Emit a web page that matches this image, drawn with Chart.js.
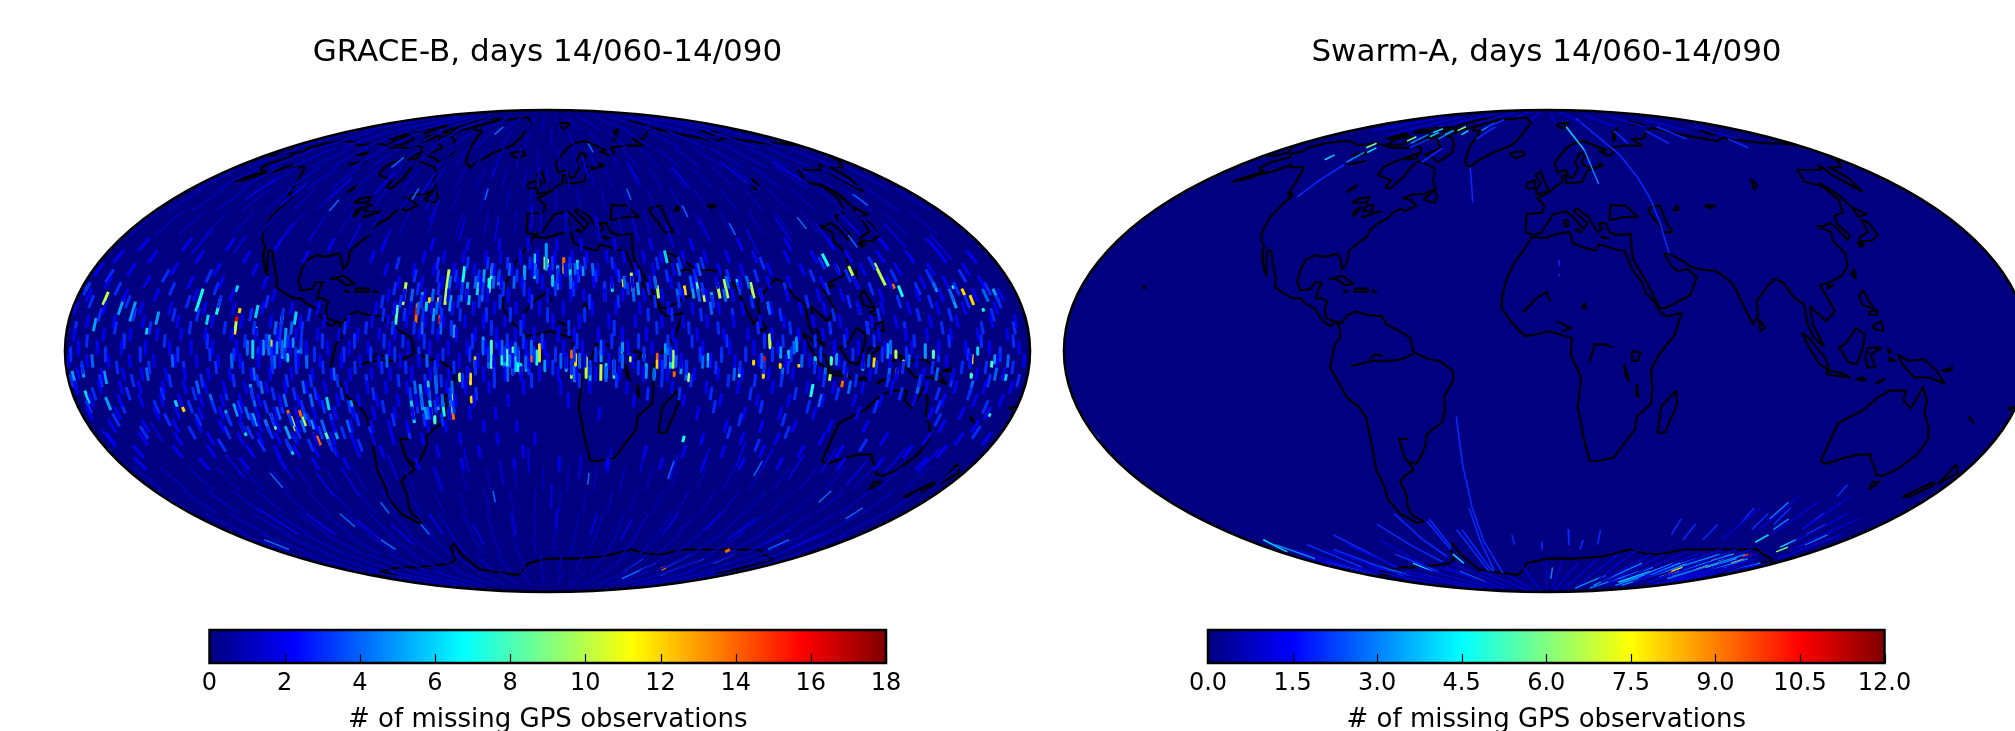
<!DOCTYPE html>
<html><head><meta charset="utf-8">
<style>
html,body{margin:0;padding:0;background:#fff;width:2015px;height:731px;overflow:hidden;position:relative}
canvas{position:absolute;display:block}
</style>
<script src="https://cdn.jsdelivr.net/npm/chart.js@4/dist/chart.umd.js"></script>
</head><body>
<canvas id="mapA" style="left:61px;top:0" width="973" height="596"></canvas>
<canvas id="mapB" style="left:1060px;top:0" width="973" height="596"></canvas>
<canvas id="barA" style="left:110px;top:620px" width="875" height="111"></canvas>
<canvas id="barB" style="left:1108px;top:620px" width="876" height="111"></canvas>
<script>
/* ---------- titles and colour-bar ---------- */
const titleA='GRACE-B, days 14/060-14/090';
const titleB='Swarm-A, days 14/060-14/090';
const barLabel='# of missing GPS observations';
const maxA=18, stepA=2, maxB=12, stepB=1.5;

/* ---------- coastlines, flat lon,lat lists ---------- */
const coastAmerica=[-165,54.5,-160,55.5,-157,57,-153,58.5,-151,60,-150,61,-148,60,-145,60,-140,60,-137,58.5,-134,56.5,-131,54.5,-128,51,-124,49,-124,46,-124,42,-122,37,-120,34.5,-117,32.5,-116,30,-114,27.5,-112,25,-110,23,-111,25,-113,28,-114.5,31,-113,31,-110,27.5,-108,25,-105.5,21.5,-105,19.5,-102,18,-97,16,-94,16,-92,14.5,-88,13,-86,11,-84,9,-81,7.5,-79,9,-77.5,7,-77,4,-79,2,-80,-2,-81,-5,-79,-8,-76,-14,-72,-17,-70,-20,-71,-30,-73,-37,-73,-42,-75,-47,-74,-52,-69,-55.5,-65,-55,-68.5,-52.5,-68,-50,-65,-45,-65,-41,-62,-39,-57,-37,-58,-34.5,-55,-35,-53,-33.5,-49,-29,-48,-26,-45,-24,-41,-22,-39,-18,-39,-14,-35,-9,-35,-6,-40,-3,-44,-2.5,-48,-1,-50,0,-50,1,-51,4,-55,6,-60,8,-62,10.5,-68,11,-72,12,-75,11,-77,8.5,-80,9,-83,10,-84,13,-83.5,15,-86,16,-88,16,-88,18,-87.5,21,-90,21,-91,19,-95,18.5,-97,21,-97.5,25,-97,28,-94,29.5,-90,29,-85,30,-83,28,-81,25,-80,27,-81,31,-78,34,-76,35.5,-76,38,-74,40,-71,41.5,-70,43.5,-67,45,-65,44,-61,46,-65,48,-69,48.5,-65,50,-60,50,-56,52,-60,55,-62,58,-65,60,-70,61,-78,62.5,-78,59,-77,56,-79,52,-82,52.5,-82,55,-87,56,-92,57,-94,60,-92,62,-87,64,-83,66,-87,68,-94,69,-96,68,-108,68,-115,69,-125,70,-135,69,-141,70,-150,71,-156,71,-162,70,-166,68,-162,66.5,-166,65.5,-161,64,-165,62,-165,60,-162,59,-158,58.5,-165,54.5];
const coastAfrica=[-6,35.5,-1,35,5,36.5,10,37,11,33.5,15,32,20,31,22,33,30,31,32,31,33,28,34,25,37,21,38,18,41,15,43,12,45,10.5,51,11.5,48,5,42,-1,39,-6,40,-11,40,-16,35,-20,35,-24,32.5,-27,28,-33,22,-34,18,-34,15,-27,12,-17,13,-8,9,-1,9.5,4,5,5,1,6,-4,5,-8,4.5,-13,8.5,-17,13,-17,16,-16,21,-13,27,-9.5,31,-6,35.5];
const coastEurasia=[-5.5,36,-9,37,-9,43,-2,43.5,-1,46,-4.5,48.5,2,51,5,53,8,54,8.5,57,10.5,57,10,54,14,54,19,54.5,21,57,24,59,30,60,23,60,21,62,25,65,22,66,17,62,18,59.5,14,56,12,56,11,59,6,58,5,62,14,68,20,70,28,71,40,67,35,66.5,40,64.5,44,66,44,68,55,69,68,69,67,72,75,72,80,73,87,75,104,77.5,113,74,130,71,140,72.5,160,70,170,70,180,69];
const coastAsiaEast=[180,65,177,62.5,170,60,163,60,162,56,157,51,156,57,160,61,155,59,142,59,135,54.5,141,53,140,48,135,43.5,130,42.5,127.5,39.5,129,36,126.5,34.5,126,37.5,125,40,121,39,118,39,122,37,120,34,122,30,120,26,116,23,110,21,106,20,108,15,109,12,105,9,103,11,100,13.5,100,8,103.5,1.5,100,4,98,8,98,14,94.5,16.5,92,21,89,22,86,20,80,15,80,11,77.5,8,73,19,72,21,67,24.5,61,25,57,26,56,27,50,30,48,30,50,26,52,24.5,56,25,59,22.5,55,17,45,13,43,13,39,21,35,28,35,31,36,36.5,30,36,27,37,26,40,23,40,24,38,22,37,20,40,19,42,14,45,12.5,44,16,41.5,18,40,16,38,12,42,9,44,3,43,0,39.5,-2,37,-5.5,36];
const coastAustralia=[114,-22,122,-18,126,-14,130,-12,136,-12,136,-15,140,-17.5,142,-11,145,-15,146,-19,150,-23,153,-27,153,-32,150,-37,146,-39,143,-38.5,138,-35,136,-34,134,-32,129,-32,124,-33,118,-35,115,-34,114,-28,114,-22];
const coastAntarctica=[-180,-78,-155,-78,-153,-76,-140,-75,-125,-74,-110,-74,-90,-73,-75,-72,-68,-70,-62,-65,-58,-63.5,-60,-68,-60,-75,-30,-78,-26,-77,-15,-72,0,-70,20,-70,40,-69,55,-66,70,-68,80,-68,90,-66,110,-66,130,-66,139,-66,150,-68,165,-70,171.5,-71,165,-77,170,-77,180,-78];
const coastGreenland=[-73,78,-68,76,-60,76,-55,70,-52,66,-49,62,-44.8,60,-41,63,-35,66,-25,69,-22,72,-20,76,-18,80,-30,83.5,-45,82.5,-60,82,-68,80,-73,78];
const coastArctic=[[-62,66,-65,62,-72,64,-78,65,-73,68,-80,70,-88,73,-80,73.5,-72,71.5,-66,69,-62,66],[-105,69,-115,69.5,-118,72,-110,73,-105,72,-105,69],[-120,72,-125,72,-123,74.5,-117,74,-120,72],[-90,76.5,-78,76.5,-72,79,-62,82,-75,83,-90,82,-92,79,-90,76.5],[-92,75,-80,74.5,-80,75.5,-92,76.5,-92,75],[-117,75,-106,75,-106,76.5,-117,76.5,-117,75],[-86,63,-81,63.5,-83,65.5,-86,65,-86,63],[-100,73,-95,72,-94,74,-100,73],[-100,76,-94,76,-96,78,-100,76],[-110,77,-104,77.5,-108,79,-110,77],[-96,70,-90,72,-92,74,-96,70],[15,77,20,78,25,80,15,80,11,79,15,77],[52,71,58,74,68,77,60,75.5,52,72,52,71],[95,79,105,79,100,81,95,79],[-180,69,-175,67.5,-170,66,-173,64.5,-180,65],[140,74,150,75,142,76,140,74]];
const coastIslands=[[-59,48,-53,47,-53,49,-56,51.5,-59,48],[-128,50.5,-123.5,48.5,-125,50,-128,50.5],[-24,65.5,-19,63.5,-14,65,-16,66.5,-22,66,-24,65.5],[-85,22,-80,23,-75,20.5,-78,20,-82,22,-85,22],[-74,19,-69,19,-69,18,-74,18,-74,19],[-78,18.5,-76.5,18,-78,18,-78,18.5],[-67,18.5,-65.5,18,-67,18,-67,18.5],[-156,20,-155,19.5,-155.5,19,-156,20],[-5,50,1,51,0,53,-2,56,-3,58.5,-6,57,-3,54,-5,52,-5,50],[-10,52,-6,52,-6,55,-10,54,-10,52],[8,39,9.5,39,9.5,41,8,41,8,39],[13,38,15,37,12.5,37.5,13,38],[23,35.5,26,35,24,35,23,35.5],[142,46,143,50,142,54,143,49.5,142,46],[131,34,136,34,141,36,142,40,140,41,138,37,133,35.5,131,34],[140,42,145,43,142,45.5,140,42],[130,32,132,33,130,33.5,130,32],[121,22,122,25,120,23.5,121,22],[109,19,111,20,109,20,109,19],[120,14,124,13,122,18.5,120,17,120,14],[122,7,126,6,126,9,123,8,122,7],[122,11,125,11,125,12.5,122,12,122,11],[80,6,82,7,80,9.5,80,6],[95.5,5.5,98,4,104,-2,106,-6,102,-4,98,1,95.5,5.5],[105,-7,114,-8,110,-6.5,105,-6,105,-7],[116,-8.5,120,-9,119,-8,116,-8.5],[124,-10,127,-8.5,125,-9,124,-10],[109,1,113,-3.5,116,-4,118,1,119,5,116,7,112,2.5,109,1],[120,1,125,1,121,-1,123,-5,120,-5,119,-2,120,1],[128,-3,130,-3,128,-2,128,-3],[127.5,1,128.5,-0.5,127.5,-0.5,127.5,1],[131,-1,135,-3,141,-2.5,146,-6,150,-10,144,-8,138,-8,133,-4,131,-1],[148,-6,152,-5,151,-6,148,-6],[145,-41,148,-41,147,-43.5,145,-41],[173,-35,178,-38,175,-41.5,174,-38,173,-35],[172,-41,174,-42,170,-46,167,-46,172,-41],[49,-12,50,-16,47,-25,44,-25,44,-17,49,-12],[165,-21,167,-22,164,-20,165,-21],[178,-18,179,-17,177.5,-17.5,178,-18]];
const coastInland=[[-50,-1,-54,-2.5,-58,-3,-60,-3,-65,-3,-70,-4,-73,-4.5],[-61,-1.5,-64,-1,-66,-2.5],[-55.5,-27,-59,-27,-59,-33,-58,-34.5],[-9,11.5,-4,16,0,18,1.5,15],[4,9,9,7,6,6],[16,-3.5,18,2,22,2,25,1],[32,0,35,-0.5,34,-3,32,-3,32,0],[29,-4,31,-9,29.5,-7,29,-4],[34,-10,35,-14,34,-13,34,-10],[13.5,13,15,13,14.5,14.5,13.5,13],[28,41,30,46,37,46,41,42,35,42,28,41],[47,45,53,46,53,40,54,37,50,37,49,40,47,43,47,45],[58,44,61,46,61,44.5,58,44],[74,46,79,46,76,45,74,46],[104,51.5,109,55.5,108,53,104,51.5],[31,60,33,61,31,61.5,31,60],[-92,47,-85,47,-86,49,-90,48.5,-92,47],[-87,42,-86,45.5,-88,44,-87,42],[-84,44,-80,44,-81,46,-84,46,-84,44],[-83,42,-79,43,-82,42,-83,42],[-79,43.5,-76,44,-77,43.5,-79,43.5],[-99,50.5,-97,53,-98,53,-99,50.5],[-125,65,-118,66,-118,65,-125,65],[-117,61,-110,62.5,-112,62,-117,61]];

/* ---------- GRACE-B dense cells, by latitude strip: [lat1,lat2,[lons]] ---------- */
const graceRowsV1=[
[84,76,[-170,-140,-120,-100,-85,-60,-40,-20,-5,12,30,50,75,100,125,150,170]],
[76,68,[-175,-158,-143,-128,-113,-96,-82,-67,-50,-33,-16,3,19,38,55,72,92,110,128,146,165]],
[68,60,[-172,-160,-148,-136,-125,-112,-102,-88,-78,-64,-54,-42,-30,-18,-6,7,17,28,41,52,64,76,88,101,113,126,139,152,167]],
[60,52,[-177,-166,-155,-144,-131,-121,-109,-97,-84,-73,-59,-47,-36,-23,-12,0,11,24,33,47,58,70,83,95,107,118,131,144,158,172]],
[52,44,[-174,-163,-152,-140,-129,-117,-106,-93,-81,-68,-56,-44,-31,-19,-8,4,15,27,38,50,62,74,87,99,111,123,136,149,161,176]],
[44,36,[-178,-167,-157,-146,-134,-123,-111,-100,-89,-76,-63,-51,-39,-27,-14,-3,9,21,32,44,56,67,79,92,104,116,128,141,153,166]],
[-36,-44,[-176,-165,-153,-141,-130,-118,-107,-95,-83,-72,-61,-49,-37,-26,-14,-2,9,21,33,45,56,68,80,92,103,115,127,139,151,163,175]],
[-44,-52,[-179,-167,-156,-144,-133,-121,-110,-99,-87,-76,-64,-52,-41,-29,-17,-6,6,18,30,41,53,65,77,88,100,112,124,136,148,159,171]],
[-52,-60,[-173,-161,-149,-137,-126,-113,-102,-90,-78,-66,-55,-43,-31,-19,-7,4,16,28,39,51,63,75,87,99,110,122,134,146,158,170]],
[-60,-68,[-176,-164,-152,-140,-128,-116,-104,-92,-80,-68,-56,-44,-32,-20,-8,4,16,28,40,52,64,76,88,100,112,124,136,148,160,172]],
[-68,-76,[-170,-155,-140,-125,-110,-95,-80,-65,-50,-35,-20,-5,10,25,40,55,70,85,100,115,130,145,160,175]],
[-76,-84,[-165,-145,-125,-105,-85,-65,-45,-25,-5,15,35,55,75,95,115,135,155,175]]];
const graceRowsV2=[
[31,27,[-174,-160,-141,-122,-98,-71,-50,-42,-34,-25,-19,-11,-4,3,10,16,24,31,39,46,55,64,73,84,97,108,122,135,147,160,172]],
[27,23,[-178,-165,-148,-131,-116,-64,-53,-45,-37,-29,-21,-14,-6,1,7,13,20,27,35,42,50,59,68,77,88,101,115,125,139,152,166]],
[23,19,[-171,-156,-139,-127,-110,-58,-49,-41,-35,-26,-18,-10,-2,5,11,18,25,33,40,48,57,66,75,86,94,107,120,133,146,155,169]],
[19,15,[-176,-162,-150,-135,-121,-105,-61,-55,-47,-38,-31,-23,-15,-7,0,9,14,22,29,37,44,52,61,71,82,92,104,113,128,142,151,164,174]],
[15,11,[-179,-168,-154,-143,-130,-119,-108,-97,-87,-65,-58,-52,-44,-36,-28,-20,-12,-3,6,17,26,35,46,55,65,74,85,96,105,118,127,137,148,158,170]],
[11,7,[-173,-163,-152,-139,-126,-115,-104,-93,-84,-75,-66,-60,-53,-46,-39,-31,-24,-16,-9,2,12,23,33,43,51,60,70,80,89,100,110,122,131,144,154,167,176]],
[7,3,[-177,-166,-156,-146,-137,-128,-118,-109,-101,-94,-86,-78,-71,-63,-57,-48,-41,-34,-27,-19,-12,-5,4,10,19,28,37,47,56,66,75,84,94,103,112,124,134,142,151,161,172]],
[3,-1,[-175,-168,-159,-150,-141,-133,-125,-116,-107,-102,-96,-90,-82,-74,-67,-59,-52,-44,-37,-30,-23,-18,-14,-8,-1,6,13,21,30,39,48,58,68,77,86,96,107,116,126,136,146,156,165,176]],
[-1,-5,[-179,-172,-164,-156,-147,-139,-131,-123,-115,-108,-100,-93,-85,-77,-70,-63,-55,-48,-41,-33,-26,-20,-13,-7,0,7,14,23,32,42,50,61,70,79,89,98,109,118,128,138,149,158,168,178]],
[-5,-9,[-176,-167,-159,-152,-143,-136,-127,-119,-111,-104,-96,-88,-81,-74,-66,-59,-51,-44,-37,-30,-24,-16,-10,-3,4,11,18,27,36,45,55,64,73,83,92,102,112,121,131,141,152,161,171]],
[-9,-13,[-178,-169,-161,-154,-145,-137,-129,-122,-114,-106,-99,-91,-84,-76,-68,-61,-53,-46,-38,-31,-22,-9,5,16,30,47,60,72,85,98,108,119,130,143,154,165,175]],
[-13,-17,[-174,-163,-155,-147,-140,-132,-124,-117,-110,-102,-95,-87,-80,-72,-65,-57,-50,-42,-35,-28,-15,8,33,52,66,80,92,105,117,127,140,151,163,173]],
[-17,-21,[-177,-166,-151,-143,-134,-126,-119,-112,-105,-97,-90,-82,-75,-67,-59,-52,-45,-38,-30,-20,20,58,76,90,103,120,148,160,170]],
[-21,-25,[-171,-158,-146,-137,-128,-120,-113,-106,-98,-91,-84,-77,-69,-62,-55,-47,-40,-25,-12,70,84,97,111,125,155,168]],
[-25,-29,[-175,-162,-148,-135,-123,-115,-108,-101,-93,-86,-78,-70,-62,-50,-35,-20,-5,62,78,92,110,135,152,165,176]],
[-29,-33,[-168,-152,-138,-122,-111,-103,-95,-87,-78,-68,-45,-28,-10,40,56,72,88,104,120,148,162]],
[-33,-37,[-172,-145,-128,-112,-98,-85,-55,-36,-14,5,25,48,66,82,98,124,140,158]],
[35,31,[-168,-150,-132,-112,-90,-68,-48,-33,-20,-8,4,14,28,43,60,80,100,118,140,160]]];
const graceRowsV3=[
[29,25,[-60,-44,-32,-24,-16,-7,2,9,15,26,44,53,62,86,110,130]],
[25,21,[-172,-150,-133,-52,-43,-36,-27,-19,-12,-4,4,12,19,28,36,47,58,71,82,104,118,136,150,163]],
[21,17,[-178,-166,-145,-128,-59,-50,-42,-33,-25,-17,-9,3,10,22,31,39,51,60,74,92,108,125,143,158,170]],
[17,13,[-174,-160,-137,-125,-107,-63,-56,-48,-41,-34,-26,-18,-6,16,27,41,50,63,78,99,115,134,146,160,172]],
[13,9,[-169,-156,-141,-132,-112,-100,-90,-62,-54,-47,-40,-33,-23,-14,0,14,38,47,58,70,88,108,125,140,152,168]],
[9,5,[-177,-162,-149,-134,-121,-110,-100,-92,-76,-68,-58,-50,-43,-36,-21,-10,8,25,41,53,64,79,91,106,120,134,148,163,175]],
[5,1,[-172,-158,-143,-127,-113,-105,-100,-97,-92,-84,-72,-61,-54,-46,-28,-19,-15,-9,-2,11,24,34,45,54,67,81,88,100,111,122,137,150,162,174]],
[1,-3,[-178,-165,-152,-138,-126,-117,-108,-103,-98,-94,-87,-76,-66,-57,-48,-39,-29,-22,-16,-11,-5,3,10,18,27,36,46,57,65,74,84,91,102,114,125,134,146,157,169]],
[-3,-7,[-174,-161,-149,-136,-124,-114,-103,-94,-84,-72,-62,-53,-42,-35,-27,-20,-13,-7,2,9,16,25,34,43,52,63,72,81,90,100,111,123,133,144,155,164,174]],
[-7,-11,[-179,-168,-156,-142,-130,-118,-109,-98,-89,-79,-68,-56,-46,-40,-32,-20,-6,12,26,43,54,68,78,88,104,116,128,140,152,166,177]],
[-11,-15,[-172,-159,-146,-134,-122,-112,-104,-96,-88,-78,-66,-52,-45,-37,-27,38,50,62,77,94,110,134,148,160]],
[-15,-19,[-176,-163,-150,-137,-128,-118,-108,-102,-94,-86,-76,-63,-50,-43,-36,64,82,100,126,150,168]],
[-19,-23,[-168,-148,-136,-124,-115,-107,-100,-93,-84,-74,-60,-48,-41,75,92,152]],
[-23,-27,[-160,-141,-127,-118,-110,-99,-90,-81,-70,-55,72,95,170]],
[-27,-31,[-132,-116,-105,-96,-88,-76,85,128]]];
const graceRowsV4=[
[27,23,[-22,-15,-5,7,11,18,52,60]],
[23,19,[-38,-28,-21,-13,4,9,30,42,56,70,78,120,150]],
[19,15,[-52,-44,-38,-33,-25,22,33,50,58,68,82,155,168]],
[15,11,[-58,-49,-42,-36,-28,46,62,84,118]],
[9,5,[-110,-102,-96,-58,-47,-40,120]],
[3,-1,[-112,-104,-99,-92,-24,-17,-12,-6,20,45,92,128]],
[-1,-5,[-170,-140,-118,-102,-90,-60,-45,-22,-14,-8,5,12,28,44,48,58,80,95,120,135,158,172]],
[-5,-9,[-150,-110,-80,-42,-30,-15,10,22,40,52,70,88,104,128,146,168]],
[-9,-13,[-132,-108,-92,-50,-42,-36,114,140,160]],
[-13,-17,[-128,-112,-100,-90,-48,-40,-37,104]],
[-17,-21,[-116,-104,-94,-82,-46,-38]],
[-21,-25,[-110,-96,-88,-78]]];

/* ---------- GRACE-B individual cells and streaks: [lon,lat1,lat2] ---------- */
const graceFaint2=[[-176,-24,-30],[-155,-22,-28],[-133,-32,-40],[-112,-32,-40],[-100,-38,-46],[-88,-36,-46],[-66,-32,-40],[-48,-36,-44],[-34,-30,-38],[-20,-34,-42],[-8,-30,-38],[2,-42,-50],[14,-32,-40],[26,-30,-38],[40,-30,-38],[54,-32,-40],[66,-30,-38],[80,-28,-36],[92,-30,-38],[106,-32,-40],[118,-30,-38],[134,-34,-42],[146,-30,-38],[160,-30,-38],[-143,-50,-60],[-122,-52,-60],[-100,-54,-62],[-84,-56,-64],[-60,-52,-60],[-40,-56,-64],[-18,-52,-60],[5,-50,-58],[25,-52,-60],[44,-54,-62],[66,-52,-60],[88,-50,-58],[108,-54,-62],[135,-58,-66],[158,-58,-66],[-145,30,38],[-128,30,36],[-112,32,40],[-100,34,42],[-82,32,40],[-68,30,38],[-52,40,48],[-37,34,42],[-22,34,42],[-7,38,46],[8,36,44],[22,34,42],[38,34,42],[52,32,40],[68,34,42],[86,30,38],[102,34,42],[118,32,40],[133,36,44],[148,32,40],[163,28,36],[-145,48,56],[-125,46,54],[-105,48,56],[-85,50,58],[-62,50,58],[-30,56,64],[-5,52,60],[22,56,64],[48,54,62],[72,52,60],[104,54,62],[135,54,62]];
const graceFaint4=[[-120,-38,-43],[-105,-52,-57],[-68,-56,-60],[-80,-48,-52],[-25,-44,-48],[18,-38,-42],[53,-34,-40],[90,-34,-39],[130,-44,-48],[155,-50,-54],[-100,44,48],[-65,48,52],[-30,48,52],[40,48,52],[63,42,46],[80,36,40],[112,38,42],[128,32,36],[150,46,50],[-90,60,64],[-45,74,78],[30,66,70],[70,-70,-76],[85,-72,-80],[100,-68,-74],[115,-70,-78],[130,-68,-72],[145,-62,-66],[-170,-62,-66],[-100,-62,-66]];
const graceV5=[[-180,-8,-10],[-178,-6,-12],[-174,-4,-8],[-168,-14,-18],[-166,-6,-10],[-162,16,11],[-157,15,9],[-170,10,6],[-147,12,8],[-104,5,0],[-101,6,-1],[-98,7,0],[-95,4,1],[-112,-10,-14],[-120,-16,-20],[-75,-15,-20],[-42,-5,-12],[-48,-10,-18],[-35,8,4],[-0.5,33,25],[4,26,21],[14,26,23],[150,21,18],[172,19,15],[-52,-18,-20],[20,0,-3],[-24,4,0],[28,4,0],[44,2,-1],[60,-3,-5],[93,4,0],[108,-1,-4],[127,2,-2],[141,2,-2],[167,-1,-4],[-106,3,-1],[-99,2,-2],[-93,0,-3],[-124,-18,-22],[-114,-19,-23],[-103,-23,-27],[-92,-21,-24],[-84,-24,-27],[-48,18,13],[-43,13,9],[-37,17,12],[-31,21,16],[-25,25,20],[-19,24,20],[-9,26,22],[-16,-1,-5],[-8,-2,-6],[-1,-3,-6],[7,-2,-6],[16,-5,-9],[37,-4,-8],[50,-3,-7],[-42,-14,-18],[-47,-17,-21],[35,21,17],[56,20,16],[63,18,14],[87,1,-2],[118,-3,-6],[155,17,13]];
const graceV6=[[-178,20,18.5],[-150,7,5],[-120,20,18],[-128,11,8],[-110,14,10],[-95,12,8],[-110,3,-2],[-45,-9,-20],[-52,-15,-22],[-5,30,22],[-27,23,17],[9,27,22],[12,28,21],[48,31,27],[74,22,18],[60,-1,-3],[65,-1,-3],[160.5,1,-1],[172,-7,-9],[-87,-30,-32],[-142,-15,-17],[-175,-12,-16],[-120,-22,-26],[-84,-14,-18],[-105,-28,-32],[22,-4,-8],[90,0,-2],[100,-2,-4],[-102,2,-1],[-97,-1,-3],[-110,-21,-24],[-101,-26,-28],[-46,15,12],[-30,17,14],[-18,22,19],[-12,-2,-6],[-10,-4,-7],[2,23,20],[25,21,18],[46,-2,-5],[40,-6,-8]];
const graceV7=[[-133,19,12],[-125,16,11],[-156,11,10],[-109,7,5],[-33,26,20],[-40,-15,-20],[-22.5,22,18],[-17,1,-4],[-11,0,-6],[25,-3,-8],[84,15,12],[100,-10,-14],[112,30,26],[136,20,16.5],[157,20,19],[165,13,12],[54.5,-26,-28],[171,-19,-20],[-4,0,-4]];
const graceV8=[[-107,-19,-24],[-88,-25,-29],[-100,11,8],[-57,14,8],[-36.5,-12,-19],[-22,26,22],[-13,1,-7],[-15,2,-5],[-21,3,-5],[-44,-20,-22],[36,-1,-2],[58,23,18],[72,-5,-8],[106,-2,-4],[144,0,-2],[159,-7,-8],[166,-3,-5],[115,26,24]];
const graceV10=[[-169,18,14],[-117,9,6],[-99.5,-20,-24.5],[-95,-20,-23],[-55,21,14],[-39,25,19],[-39,19,14],[-33,-7,-9],[0,28,26],[-1,29,25],[9,-4,-8],[14.5,-2,-8],[20,-4,-9],[31,-2,-3],[33,24,18],[42.5,20,16],[47,0,-5],[53,-7,-9],[60,19,15],[66,21,16],[69,22,16],[79,21,16],[83,5,1],[106,-7,-9],[112,-6,-8],[120,26,22],[130,0,-2],[131,27,20]];
const graceV12=[[-140,-17,-18.5],[-117,7,5],[-116.5,13,11.5],[-103,3,0],[-45,16,15],[-41.5,16,15],[-27,-2,-5],[-29,-7,-10],[-29,-14,-15.5],[-22.5,20,18.5],[-3,2,-3],[6.5,26,24],[10.5,-1,-9],[27.5,0,-1],[29.5,22,19.5],[41,-3,-5],[45,-6,-7.5],[53,20,17],[77,-3,-4],[81,-7,-8],[87,-4,-5],[94,-4,-5],[122,-2,-5],[133,-3,-4],[158.5,-1,-4],[160,19,17],[162,17,14]];
const graceV14=[[-100,-18,-20],[-95.5,-18,-20],[-92,-26,-29],[-49.5,14.5,13],[-49.5,11,8.5],[-40.5,11,10],[-36.5,-19,-21],[-6,1,-3],[6.5,28.5,26.5],[9,0,-2],[41,-1,-3],[44,-3,-4.5],[42,22,20.5],[47.5,-6.5,-7.5],[111,-9,-11],[131,-5.5,-7],[134,20.5,19],[100,-74,-75],[120,-66,-67]];
const graceV16=[[-117,10.5,9],[-93,-25,-26],[-49.5,12.5,11],[-40.5,10,8.5],[9,-3,-4],[81,-2,-5]];

/* ---------- Swarm-A tracks: [lon,lat1,lat2] or [lon1,lat1,lon2,lat2] ---------- */
const swarmV1=[[-170,-70,-84],[-150,-74,-86],[-130,-76,-86],[-110,-74,-86],[-90,-74,-86],[-75,-72,-86],[-60,-76,-88],[-40,-78,-88],[-20,-74,-88],[0,-72,-86],[12,-72,-86],[25,-72,-88],[38,-70,-86],[50,-68,-84],[60,-66,-80],[72,-68,-82],[82,-68,-82],[95,-67,-84],[105,-67,-80],[115,-66,-82],[125,-66,-80],[135,-66,-82],[145,-68,-80],[155,-70,-82],[165,-72,-84],[175,-72,-84],[-178,-68,-80],[-165,-66,-76],[-145,-66,-76],[-125,-64,-74],[-100,-62,-74],[-85,-74,-84],[-160,76,84],[-135,74,84],[-110,78,86],[-80,80,87],[-50,84,88],[-20,82,88],[10,80,87],[40,80,88],[70,78,85],[100,78,84],[130,76,82],[150,72,78],[105,-50,-62],[118,-46,-58],[130,-48,-60],[142,-46,-58],[152,-52,-64],[162,-54,-66],[170,-60,-70]];
const swarmV2=[[-35,-20,-35.5,-35],[-35.5,-35,-36.5,-50],[-36.5,-50,-38,-62],[-38,-62,-42,-77],[-38,-50,-40,-62],[-40,-62,-48,-76],[-61,-54,-61,-65],[-63,-55,-63,-66],[-50,-58,-53,-76],[-47,-58,-50,-76],[-91,-56,-85,-65],[-85,-65,-80,-71.5],[-123,-60,-127,-74],[-77,-52,-74,-62],[-74,-62,-71,-69],[-121,49,-120,55],[-120,55,-119,61],[-35,47,-39,54],[-39,54,-44,60],[47,65,49,56],[49,56,50,48],[50,48,50,40],[50,40,50,30],[42,83,47,65],[5,28,5,26],[5,23.5,5,23],[-150,-64,-156,-74],[-140,-66,-146,-78],[-105,-68,-100,-76],[-20,-60,-20,-64],[-3,-63,-3,-66],[12,-58,14,-64],[22,-62,22,-66],[30,-58,32,-64],[70,-54,72,-60],[80,-56,82,-62],[92,-56,94,-62],[102,-50,104,-56],[112,-52,114,-58],[120,-50,122,-56],[135,-42,136,-46],[140,-52,142,-58],[-95,68,-92,72],[-75,62,-72,68],[-55,72,-52,78],[-60,78,-56,82],[60,70,62,76],[90,70,91,76],[110,72,112,78],[140,68,143,72],[-180,-24,-179,-27]];
const swarmV3=[[60,-78,-86],[75,-72,-84],[90,-74,-86],[100,-72,-82],[110,-70,-84],[120,-68,-84],[128,-68,-78],[138,-68,-80],[148,-70,-76],[116,-48,-54],[126,-54,-58],[150,-56,-60],[162,-60,-64],[-170,-64,-70],[-172,-72,-78],[-120,62,66],[-85,72,76],[-100,70,74],[-60,76,80],[25.6,67,27,53.6],[-140,-72,-78],[-80,-76,-82],[5,-74,-80],[168,-72,-76]];
const swarmV4=[[20,78,25.6,67],[-170,-62,-175,-67],[-136,63,65],[-118,66,68],[-95,73,75],[-72,74,76],[-100,75,77],[-86,74,76],[105,-72,-78],[125,-72,-76],[140,-70,-74],[95,-76,-82],[85,-76,-80],[128,-60,-63],[150,-62,-65],[-105,-72,-76],[-65,-68,-72],[150,-72,-74]];
const swarmV6=[[-106,71,73],[-82,76,78],[110,-72,-75],[130,-68,-71],[122,-76,-79],[135,-72,-74],[155,-65,-67],[-125,68,70]];
const swarmV8=[[115,-74,-76],[132,-73,-75],[145,-70,-72],[100,-78,-80]];
const swarmV10=[[125,-70,-71],[118,-76,-77],[140,-68,-69]];

/* ---------- helpers: projection through the library's scales, jet colours ---------- */
function moll(lon,lat){
  const p=lat*Math.PI/180; let t=p;
  if(Math.abs(lat)>89.9) t=Math.sign(lat)*Math.PI/2;
  else for(let i=0;i<30;i++){const d=(2*t+Math.sin(2*t)-Math.PI*Math.sin(p))/(2+2*Math.cos(2*t));t-=d;if(Math.abs(d)<1e-7)break;}
  return {x:2*Math.SQRT2/Math.PI*(lon*Math.PI/180)*Math.cos(t),y:Math.SQRT2*Math.sin(t)};
}
function clamp(v){return Math.max(0,Math.min(1,v));}
function jet(t){const c=o=>Math.round(255*clamp(1.5-Math.abs(4*t-o)));return `rgb(${c(3)},${c(2)},${c(1)})`;}
function trackPoints(list){
  const out=[];
  list.forEach(r=>{
    if(r.length===3){out.push(moll(r[0],r[1]),moll(r[0],r[2]));}
    else{out.push(moll(r[0],r[1]),moll(r[2],r[3]));}
    out.push({x:null,y:null});
  });
  return out;
}
function rowTracks(rows){const o=[];rows.forEach(r=>r[2].forEach(l=>o.push([l,r[0],r[1]])));return o;}
function flatLine(f){const o=[];for(let i=0;i<f.length;i+=2)o.push(moll(f[i],f[i+1]));return o;}
function lineSet(data,color,width){
  return {type:'scatter',data,showLine:true,spanGaps:false,pointRadius:0,pointHoverRadius:0,borderColor:color,borderWidth:width,borderCapStyle:'butt',borderJoinStyle:'round',fill:false,tension:0};
}
const FONT='"DejaVu Sans"';
const globe={id:'globe',
  beforeDatasetsDraw(c){const {x,y}=c.scales,ctx=c.ctx;
    const cx=x.getPixelForValue(0),cy=y.getPixelForValue(0),rx=x.getPixelForValue(x.max)-cx,ry=cy-y.getPixelForValue(y.max);
    ctx.save();ctx.beginPath();ctx.ellipse(cx,cy,rx,ry,0,0,2*Math.PI);ctx.fillStyle=jet(0);ctx.fill();ctx.clip();},
  afterDatasetsDraw(c){const {x,y}=c.scales,ctx=c.ctx;
    const cx=x.getPixelForValue(0),cy=y.getPixelForValue(0),rx=x.getPixelForValue(x.max)-cx,ry=cy-y.getPixelForValue(y.max);
    ctx.restore();ctx.save();ctx.beginPath();ctx.ellipse(cx,cy,rx,ry,0,0,2*Math.PI);ctx.strokeStyle='#000';ctx.lineWidth=2.6;ctx.stroke();ctx.restore();}
};
const coastLines=[coastAmerica,coastAfrica,coastEurasia,coastAsiaEast,coastAustralia,coastAntarctica,coastGreenland,...coastArctic,...coastIslands,...coastInland];
function makeMap(id,title,maxV,groups){
  const ds=[];
  groups.forEach(g=>ds.push(lineSet(trackPoints(g[1]),jet(g[0]/maxV),g[2])));
  coastLines.forEach(f=>ds.push(lineSet(flatLine(f),'#000',2.2)));
  new Chart(document.getElementById(id),{type:'scatter',data:{datasets:ds},plugins:[globe],options:{
    responsive:false,animation:false,clip:false,events:[],
    layout:{padding:4},
    plugins:{legend:{display:false},tooltip:{enabled:false},
      title:{display:true,text:title,color:'#000',font:{family:FONT,size:31,weight:'normal'},padding:{top:30.5,bottom:38.3}}},
    scales:{x:{type:'linear',display:false,min:-2*Math.SQRT2,max:2*Math.SQRT2},y:{type:'linear',display:false,min:-Math.SQRT2,max:Math.SQRT2}}
  }});
}
makeMap('mapA',titleA,maxA,[[1,rowTracks(graceRowsV1),1.6],[2,rowTracks(graceRowsV2),3],[2,graceFaint2,1.6],[3,rowTracks(graceRowsV3),3],[4,rowTracks(graceRowsV4),3],[4,graceFaint4,1.6],[5,graceV5,3],[6,graceV6,3],[7,graceV7,3],[8,graceV8,3],[10,graceV10,3],[12,graceV12,3],[14,graceV14,3],[16,graceV16,3]]);
makeMap('mapB',titleB,maxB,[[1,swarmV1,1.5],[2,swarmV2,1.6],[3,swarmV3,1.5],[4,swarmV4,1.5],[6,swarmV6,1.5],[8,swarmV8,1.5],[10,swarmV10,1.5]]);

const barFrame={id:'barFrame',afterDraw(c){
  const a=c.chartArea,ctx=c.ctx,sc=c.scales.x;ctx.save();ctx.strokeStyle='#000';
  ctx.lineWidth=1.2;sc.ticks.forEach(t=>{const p=Math.round(sc.getPixelForValue(t.value))+.5;ctx.beginPath();ctx.moveTo(p,a.bottom);ctx.lineTo(p,a.bottom-9);ctx.stroke();});
  ctx.lineWidth=2.5;ctx.strokeRect(a.left,a.top,a.right-a.left,a.bottom-a.top);ctx.restore();
}};
function makeBar(id,maxV,step,fmt,padL,padR){
  new Chart(document.getElementById(id),{type:'bar',
    data:{labels:[''],datasets:[{data:[[0,maxV]],barPercentage:1,categoryPercentage:1,borderWidth:0,
      backgroundColor(ctx){const a=ctx.chart.chartArea;if(!a)return '#00007f';const g=ctx.chart.ctx.createLinearGradient(a.left,0,a.right,0);for(let i=0;i<=32;i++)g.addColorStop(i/32,jet(i/32));return g;}}]},
    plugins:[barFrame],
    options:{indexAxis:'y',responsive:false,animation:false,events:[],
      layout:{padding:{left:padL,right:padR,top:10,bottom:0}},
      plugins:{legend:{display:false},tooltip:{enabled:false},title:{display:false}},
      scales:{y:{display:false,grid:{display:false}},
        x:{min:0,max:maxV,grid:{display:false,drawTicks:false},border:{display:false},
          afterFit(s){s.height=68;},
          ticks:{stepSize:step,autoSkip:false,maxRotation:0,color:'#000',padding:6,font:{family:FONT,size:24},callback:v=>fmt(v)},
          title:{display:true,text:barLabel,color:'#000',font:{family:FONT,size:26},padding:{top:0,bottom:-4.5}}}}
    }});
}
makeBar('barA',maxA,stepA,v=>String(v),99.5,99);
makeBar('barB',maxB,stepB,v=>v.toFixed(1),100,99.5);
</script>
</body></html>
